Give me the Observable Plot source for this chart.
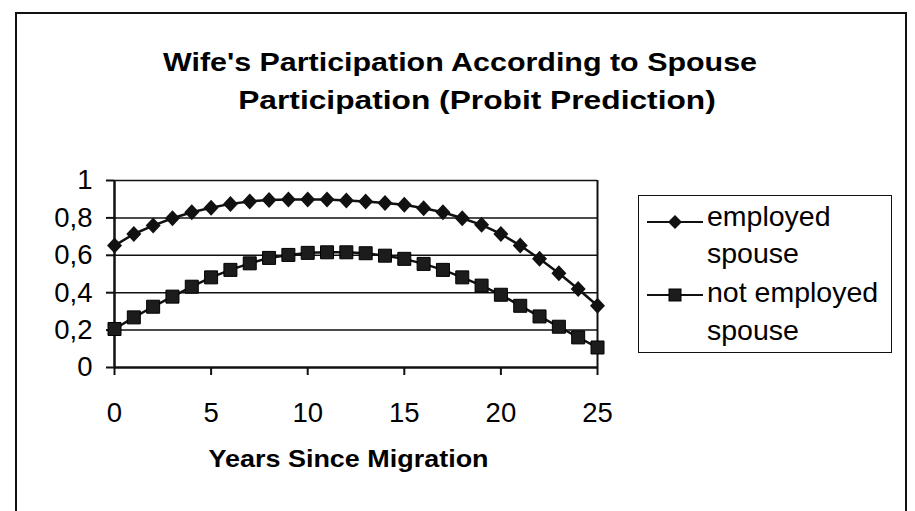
<!DOCTYPE html>
<html>
<head>
<meta charset="utf-8">
<script src="https://cdn.jsdelivr.net/npm/d3@7"></script>
<script src="https://cdn.jsdelivr.net/npm/@observablehq/plot@0.6"></script>
<style>
  html, body { margin: 0; padding: 0; background: #fff; }
  #wrap { position: relative; width: 915px; height: 511px; overflow: hidden; font-family: "Liberation Sans", Arial, sans-serif; color: #000; }
  #border { position: absolute; left: 15px; top: 12px; width: 892px; height: 560px; border: 2px solid #111; box-sizing: border-box; }
  .tl { position: absolute; left: 0; text-align: center; font-weight: bold; font-size: 26px; line-height: 38px; white-space: nowrap; }
  #t1 { width: 920px; top: 43px; transform: scaleX(1.17); transform-origin: 460px 0; }
  #t2 { width: 954px; top: 81px; transform: scaleX(1.22); transform-origin: 477px 0; }
  #xlabel { position: absolute; left: 0; width: 697px; top: 445px; text-align: center; font-weight: bold; font-size: 24.5px; transform: scaleX(1.1); transform-origin: 348px 0; }
  #legend { position: absolute; left: 638px; top: 195px; width: 254px; height: 158px; border: 1.5px solid #111; box-sizing: border-box; }
  .lg { position: absolute; left: 68px; font-size: 28.5px; line-height: 33px; white-space: nowrap; }
  .lgsym { position: absolute; left: 8px; }
  #plot { position: absolute; left: 0; top: 0; }
</style>
</head>
<body>
<div id="wrap">
  <div id="border"></div>
  <div id="t1" class="tl">Wife's Participation According to Spouse</div>
  <div id="t2" class="tl">Participation (Probit Prediction)</div>
  <div id="plot"></div>
  <div id="xlabel">Years Since Migration</div>
  <div id="legend"></div>
</div>
<script>
// ---- data ----
const years = [0,1,2,3,4,5,6,7,8,9,10,11,12,13,14,15,16,17,18,19,20,21,22,23,24,25];
const employedSpouse = [0.652,0.714,0.759,0.798,0.830,0.854,0.875,0.888,0.896,0.898,0.898,0.898,0.893,0.888,0.880,0.870,0.852,0.830,0.798,0.763,0.714,0.652,0.581,0.504,0.420,0.330];
const notEmployedSpouse = [0.206,0.268,0.325,0.379,0.432,0.482,0.522,0.557,0.586,0.602,0.613,0.616,0.616,0.611,0.598,0.581,0.554,0.522,0.482,0.438,0.389,0.330,0.273,0.218,0.161,0.107];
const seriesNames = ["employed spouse", "not employed spouse"];
const xTicks = [0,5,10,15,20,25];
const yTicks = [0,0.2,0.4,0.6,0.8,1];

const diamond = { draw(ctx) { ctx.moveTo(0,-8); ctx.lineTo(7.5,0); ctx.lineTo(0,8); ctx.lineTo(-7.5,0); ctx.closePath(); } };
const square = { draw(ctx) { ctx.moveTo(-6.5,-6.5); ctx.lineTo(6.5,-6.5); ctx.lineTo(6.5,6.5); ctx.lineTo(-6.5,6.5); ctx.closePath(); } };

const emp = years.map((x,i) => ({x, y: employedSpouse[i]}));
const notEmp = years.map((x,i) => ({x, y: notEmployedSpouse[i]}));

const fmt = d => String(d).replace(".", ",");

const chart = Plot.plot({
  width: 915, height: 511,
  marginLeft: 114, marginRight: 318, marginTop: 180, marginBottom: 144,
  style: { fontFamily: "'Liberation Sans', Arial, sans-serif", color: "#000", background: "transparent", overflow: "visible" },
  x: { domain: [0,25] },
  y: { domain: [0,1] },
  marks: [
    Plot.ruleY(yTicks.filter(d => d > 0), { y: d => d, stroke: "#111", strokeWidth: 1.5 }),
    Plot.ruleX([25], { x: d => d, stroke: "#111", strokeWidth: 2 }),
    Plot.axisY({ ticks: yTicks, tickSize: 8, tickPadding: 14, tickFormat: fmt, fontSize: 27.5, stroke: "#111", strokeWidth: 2, label: null }),
    Plot.axisX({ ticks: xTicks, tickSize: 8, tickPadding: 27, tickFormat: d => String(d), fontSize: 27.5, stroke: "#111", strokeWidth: 2, label: null }),
    Plot.ruleX([0], { x: d => d, stroke: "#111", strokeWidth: 2.5 }),
    Plot.ruleY([0], { y: d => d, stroke: "#111", strokeWidth: 2.5 }),
    Plot.line(emp, { x: "x", y: "y", stroke: "#111", strokeWidth: 2.5 }),
    Plot.line(notEmp, { x: "x", y: "y", stroke: "#111", strokeWidth: 2.5 }),
    Plot.dot(emp, { x: "x", y: "y", symbol: diamond, fill: "#111", stroke: "none" }),
    Plot.dot(notEmp, { x: "x", y: "y", symbol: square, fill: "#1c1c1c", stroke: "#000", strokeWidth: 1 })
  ]
});
document.getElementById("plot").appendChild(chart);

// ---- legend ----
const legend = document.getElementById("legend");
const sym = [
  '<svg width="56" height="16" class="lgsym"><line x1="0" y1="8" x2="56" y2="8" stroke="#111" stroke-width="2"/><path d="M28,1L35,8L28,15L21,8Z" fill="#111"/></svg>',
  '<svg width="56" height="16" class="lgsym"><line x1="0" y1="8" x2="56" y2="8" stroke="#111" stroke-width="2"/><rect x="22" y="2" width="12" height="12" fill="#1c1c1c" stroke="#000"/></svg>'
];
const rows = [
  { top: 4, text: "employed", symTop: 18, s: 0 },
  { top: 41, text: "spouse" },
  { top: 80, text: "not employed", symTop: 91, s: 1 },
  { top: 118, text: "spouse" }
];
rows.forEach(r => {
  const t = document.createElement("div");
  t.className = "lg"; t.style.top = r.top + "px"; t.textContent = r.text;
  legend.appendChild(t);
  if (r.s !== undefined) {
    const w = document.createElement("div");
    w.innerHTML = sym[r.s];
    const el = w.firstChild; el.style.top = r.symTop + "px";
    legend.appendChild(el);
  }
});
</script>
</body>
</html>
